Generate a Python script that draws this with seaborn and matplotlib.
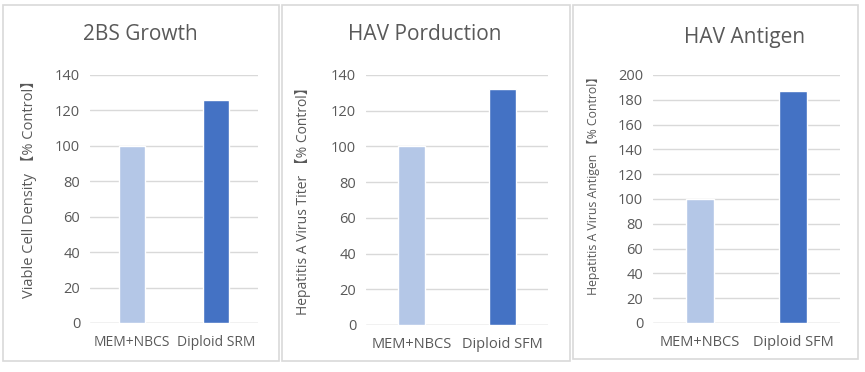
import matplotlib
matplotlib.use("Agg")
import matplotlib.pyplot as plt
import seaborn as sns
import pandas as pd
from matplotlib.patches import Rectangle

# data
titles = ["2BS Growth", "HAV Porduction", "HAV Antigen"]
categories_1 = ["MEM+NBCS", "Diploid SRM"]
categories_2 = ["MEM+NBCS", "Diploid SFM"]
categories_3 = ["MEM+NBCS", "Diploid SFM"]
values_1 = [100, 126]
values_2 = [100, 132]
values_3 = [100, 187]
ylabels = ["Viable Cell Density \u3010% Control\u3011",
           "Hepatitis A Virus Titer \u3010% Control\u3011",
           "Hepatitis A Virus Antigen \u3010% Control\u3011"]
yticks_1 = [0, 20, 40, 60, 80, 100, 120, 140]
yticks_2 = [0, 20, 40, 60, 80, 100, 120, 140]
yticks_3 = [0, 20, 40, 60, 80, 100, 120, 140, 160, 180, 200]

sns.set_style("white")
plt.rcParams["font.family"] = ["Open Sans", "Noto Sans CJK SC", "DejaVu Sans"]

TEXT = "#595959"
GRID = "#D9D9D9"
colors = ["#B4C7E7", "#4472C4"]

W, H = 865, 372
fig = plt.figure(figsize=(W / 100, H / 100), dpi=100)

# panel layout in pixels
panels = [
    dict(cats=categories_1, vals=values_1, ticks=yticks_1, box=(3, 279, 5, 361),
         ax=(90, 258, 75, 323), title=(140, 35), ylab=(29, 186, 10.5), xfs=10),
    dict(cats=categories_2, vals=values_2, ticks=yticks_2, box=(282, 570, 5, 361),
         ax=(366, 548, 75, 325), title=(425, 35), ylab=(303, 198, 10), xfs=10.5),
    dict(cats=categories_3, vals=values_3, ticks=yticks_3, box=(573, 858, 5, 359),
         ax=(653, 840, 75, 323), title=(745, 37), ylab=(593, 183, 8.8), xfs=10.5),
]

for i, p in enumerate(panels):
    x0, x1, y0, y1 = p["box"]
    fig.patches.append(Rectangle((x0 / W, 1 - y1 / H), (x1 - x0) / W, (y1 - y0) / H,
                                 transform=fig.transFigure, fill=False,
                                 edgecolor=GRID, linewidth=1.2))
    l, r, t, b = p["ax"]
    ax = fig.add_axes([l / W, 1 - b / H, (r - l) / W, (b - t) / H])
    df = pd.DataFrame({"cat": p["cats"], "val": p["vals"]})
    sns.barplot(data=df, x="cat", y="val", hue="cat", palette=colors,
                saturation=1, width=0.3, legend=False, ax=ax, zorder=3)
    ax.set_xlim(-0.5, 1.5)
    ax.set_ylim(0, p["ticks"][-1])
    ax.set_yticks(p["ticks"])
    ax.yaxis.grid(True, color=GRID, linewidth=1, zorder=0)
    ax.set_axisbelow(True)
    for s in ax.spines.values():
        s.set_visible(False)
    ax.axhline(0, color=GRID, linewidth=1, zorder=1)
    ax.set_xlabel("")
    ax.set_ylabel("")
    ax.tick_params(axis="y", length=0, labelsize=10.5, labelcolor=TEXT, pad=7)
    ax.tick_params(axis="x", length=0, labelsize=p["xfs"], labelcolor=TEXT, pad=9)
    fig.text(p["title"][0] / W, 1 - p["title"][1] / H, titles[i],
             ha="center", va="center", fontsize=15, color=TEXT)
    fig.text(p["ylab"][0] / W, 1 - p["ylab"][1] / H, ylabels[i],
             ha="center", va="center", rotation=90, fontsize=p["ylab"][2], color=TEXT)

fig.savefig("out.png", dpi=100, facecolor="white")
